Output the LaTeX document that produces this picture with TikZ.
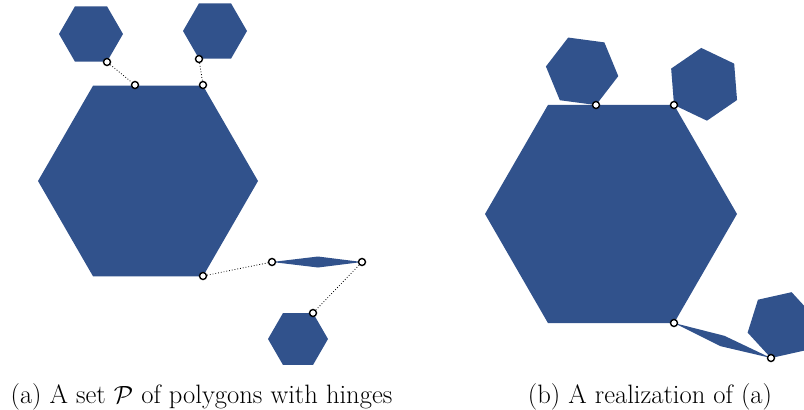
\documentclass[tikz,border=0pt]{standalone}
\definecolor{polyblue}{RGB}{49,82,140}
\tikzset{
  poly/.style={fill=polyblue},
  hinge/.style={circle,draw=black,fill=white,line width=1.4pt,inner sep=0pt,minimum size=7pt},
  tether/.style={draw=black,dotted,line width=0.8pt},
  caption/.style={anchor=base,inner sep=0pt,font=\fontsize{26.6}{31}\selectfont}
}
\newcommand\hexa[4]{\fill[poly,shift={(#1,#2)}] (#4:#3) -- ({#4+60}:#3) -- ({#4+120}:#3) -- ({#4+180}:#3) -- ({#4+240}:#3) -- ({#4+300}:#3) -- cycle;}
\begin{document}
\begin{tikzpicture}[x=1pt,y=-1pt]
\useasboundingbox (0,0) rectangle (804,410);
\clip (0,0) rectangle (804,410);
% ---- (a) ----
\hexa{148}{181}{110}{0}
\hexa{91}{34}{32}{0}
\hexa{215}{31}{32}{0}
\hexa{298}{339}{30}{0}
\fill[poly] (272,262) -- (318,256.5) -- (362,262) -- (318,267.5) -- cycle;
\node[hinge] (a1) at (107,62) {};
\node[hinge] (a2) at (135,85) {};
\node[hinge] (a3) at (199,59) {};
\node[hinge] (a4) at (203,85) {};
\node[hinge] (a5) at (203,276) {};
\node[hinge] (a6) at (272,262) {};
\node[hinge] (a7) at (362,262) {};
\node[hinge] (a8) at (313,313) {};
\draw[tether] (a1) -- (a2);
\draw[tether] (a3) -- (a4);
\draw[tether] (a5) -- (a6);
\draw[tether] (a7) -- (a8);
% ---- (b) ----
\hexa{611}{214}{126}{0}
\hexa{582.1}{71.3}{36.5}{67.6}
\hexa{704.1}{84.3}{36.5}{145.5}
\hexa{781.3}{325.1}{34.5}{107.4}
\fill[poly] (674,323) -- (724.4,335.8) -- (771,358) -- (720.6,346.2) -- cycle;
\node[hinge] (b1) at (596,105) {};
\node[hinge] (b2) at (674,105) {};
\node[hinge] (b3) at (674,323) {};
\node[hinge] (b4) at (771,358) {};
% ---- captions ----
\node[caption] (capa) at (201.5,403) {(a) A set $\mathcal{P}$ of polygons with hinges};
\node[caption] (capb) at (650,403) {(b) A realization of (a)};
\end{tikzpicture}
\end{document}
